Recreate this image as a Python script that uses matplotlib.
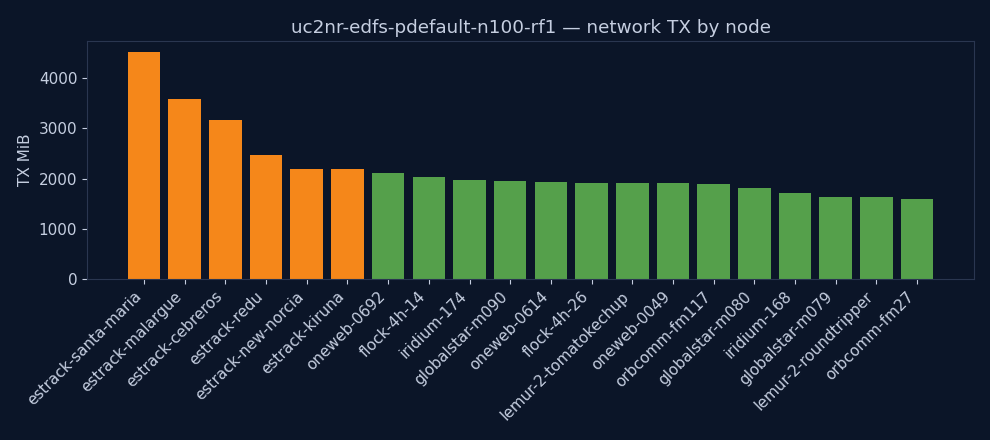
import matplotlib
matplotlib.use("Agg")
import matplotlib.pyplot as plt

nodes = ["estrack-santa-maria", "estrack-malargue", "estrack-cebreros", "estrack-redu",
         "estrack-new-norcia", "estrack-kiruna", "oneweb-0692", "flock-4h-14",
         "iridium-174", "globalstar-m090", "oneweb-0614", "flock-4h-26",
         "lemur-2-tomatokechup", "oneweb-0049", "orbcomm-fm117", "globalstar-m080",
         "iridium-168", "globalstar-m079", "lemur-2-roundtripper", "orbcomm-fm27"]
tx_mib = [4522, 3586, 3167, 2470, 2191, 2191, 2112, 2032, 1972, 1952,
          1932, 1912, 1912, 1912, 1892, 1813, 1713, 1633, 1633, 1594]
is_station = [True] * 6 + [False] * 14

bg = "#0b1528"
fg = "#c5cee0"
colors = ["#f5871a" if s else "#55a04b" for s in is_station]

fig = plt.figure(figsize=(9.9, 4.4), dpi=100, facecolor=bg)
ax = fig.add_axes([0.0879, 0.366, 0.896, 0.541], facecolor=bg)

x = list(range(len(nodes)))
ax.bar(x, tx_mib, color=colors, width=0.8)
ax.set_xticks(x)
ax.set_xticklabels(nodes, rotation=45, ha="right", fontsize=11, color=fg)
ax.set_xlim(-1.4, len(nodes) - 1 + 1.4)
ax.set_ylim(0, 4745)
ax.set_yticks([0, 1000, 2000, 3000, 4000])
ax.tick_params(axis="y", labelsize=11, colors=fg)
ax.tick_params(axis="x", colors=fg)
ax.set_ylabel("TX MiB", color=fg, fontsize=11)
ax.set_title("uc2nr-edfs-pdefault-n100-rf1 — network TX by node", color=fg, fontsize=13.2)
for sp in ax.spines.values():
    sp.set_color("#2a3650")

fig.savefig("out.png", dpi=100, facecolor=bg)
